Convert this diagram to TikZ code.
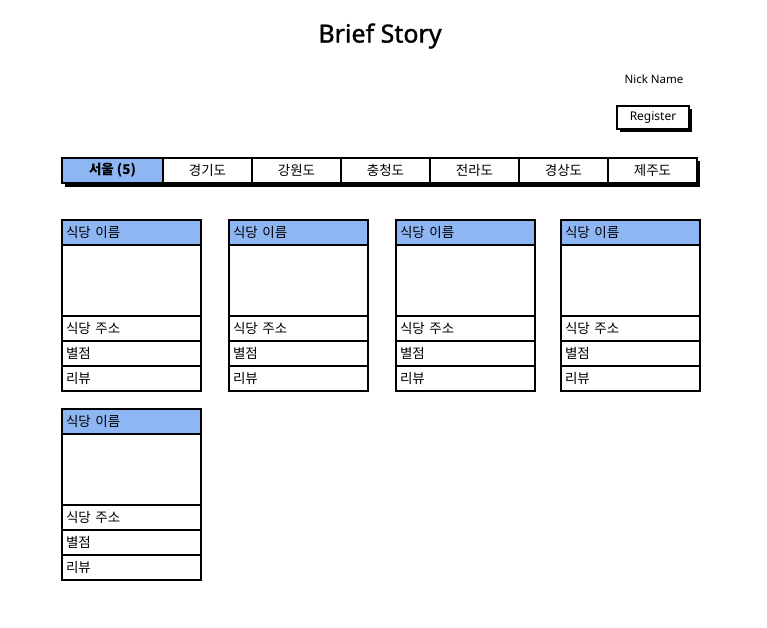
\documentclass[tikz,border=0pt]{standalone}
\usepackage{fontspec}
\setmainfont{Noto Sans CJK KR}
\newfontfamily\titlefont{Noto Sans}
\newfontfamily\titlefontm[FakeBold=1.3]{Noto Sans}
\begin{document}
\begin{tikzpicture}[x=1pt,y=-1pt,
  every node/.style={inner sep=0pt,outer sep=0pt},
  kfont/.style={font=\fontsize{13.5}{15}\selectfont},
  tabcell/.style={draw=black,line width=1.4pt,minimum height=25pt,anchor=north west,kfont},
  cardhead/.style={draw=black,line width=1.4pt,fill=hdrblue,minimum width=139pt,minimum height=25pt,anchor=north west,kfont,text width=135pt,align=left},
  cardimg/.style={draw=black,line width=1.4pt,fill=white,minimum width=139pt,minimum height=71pt,anchor=north west},
  cardrow/.style={draw=black,line width=1.4pt,fill=white,minimum width=139pt,minimum height=25pt,anchor=north west,kfont,text width=135pt,align=left},
  shadowbox/.style={fill=black,draw=none}]
\definecolor{hdrblue}{HTML}{8DB6F2}
\useasboundingbox (0,0) rectangle (767,628);
\fill[white] (0,0) rectangle (767,628);

% title
\node[font=\titlefontm\fontsize{25}{29}\selectfont] (title) at (380,36) {Brief Story};

% nick name
\node[font=\titlefont\fontsize{11.5}{13}\selectfont] (nick) at (654,79) {Nick Name};

% register button
\fill[shadowbox] (620,109) rectangle (692,132);
\node[draw=black,line width=1.4pt,fill=white,minimum width=72pt,minimum height=23pt,anchor=north west,font=\titlefont\fontsize{12}{14}\selectfont] (register) at (617,106) {Register};

% tab bar
\fill[shadowbox] (65,161) rectangle (700,187);
\node[tabcell,fill=hdrblue,minimum width=101pt,font=\bfseries\fontsize{13.5}{15}\selectfont] (t1) at (62,158) {서울 (5)};
\node[tabcell,fill=white,minimum width=89pt] (t2) at (163,158) {경기도};
\node[tabcell,fill=white,minimum width=89pt] (t3) at (252,158) {강원도};
\node[tabcell,fill=white,minimum width=89pt] (t4) at (341,158) {충청도};
\node[tabcell,fill=white,minimum width=89pt] (t5) at (430,158) {전라도};
\node[tabcell,fill=white,minimum width=89pt] (t6) at (519,158) {경상도};
\node[tabcell,fill=white,minimum width=89pt] (t7) at (608,158) {제주도};

% cards
\foreach \cx/\cy/\n in {62/220/a, 229/220/b, 396/220/c, 561/220/d, 62/409/e}{
  \node[cardhead] (\n head) at (\cx,\cy) {\hspace*{2pt}식당 이름};
  \node[cardimg] (\n img) at (\cx,\cy+25) {};
  \node[cardrow] (\n addr) at (\cx,\cy+96) {\hspace*{2pt}식당 주소};
  \node[cardrow] (\n star) at (\cx,\cy+121) {\hspace*{2pt}별점};
  \node[cardrow] (\n rev) at (\cx,\cy+146) {\hspace*{2pt}리뷰};
}
\end{tikzpicture}
\end{document}
